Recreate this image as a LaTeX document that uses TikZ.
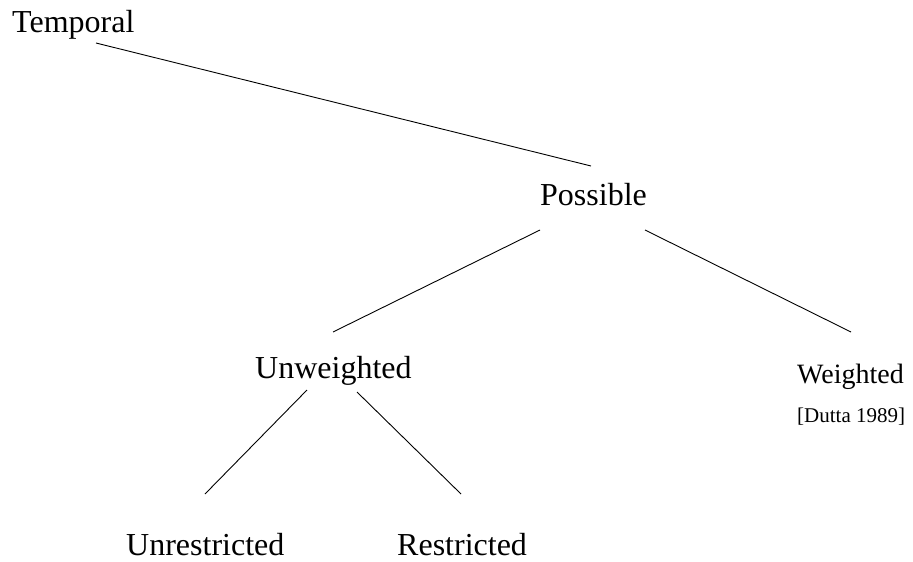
\documentclass[tikz,border=0pt]{standalone}
\usepackage{fontspec}
\setmainfont{Liberation Serif}
\begin{document}
\begin{tikzpicture}[x=1pt,y=-1pt,
  label/.style={anchor=base west,inner sep=0pt,font=\fontsize{32}{36}\selectfont},
  smalllabel/.style={anchor=base west,inner sep=0pt,font=\fontsize{28}{32}\selectfont},
  cite/.style={anchor=base west,inner sep=0pt,font=\fontsize{21}{24}\selectfont},
  edge/.style={line width=0.9pt}]
\useasboundingbox (0,0) rectangle (913,562);
% tree labels
\node[label] (temporal) at (12,32) {Temporal};
\node[label] (possible) at (540,205) {Possible};
\node[label] (unweighted) at (255,378) {Unweighted};
\node[smalllabel] (weighted) at (797,383) {Weighted};
\node[cite] (dutta) at (797,422) {[Dutta 1989]};
\node[label] (unrestricted) at (126,555) {Unrestricted};
\node[label] (restricted) at (397,555) {Restricted};
% branch end points
\coordinate (t1) at (96,43);
\coordinate (p0) at (591,166);
\coordinate (pl) at (540,230);
\coordinate (pr) at (645,230);
\coordinate (u0) at (333,332);
\coordinate (w0) at (851,332);
\coordinate (ul) at (307,390);
\coordinate (ur) at (357,392);
\coordinate (un0) at (205,494);
\coordinate (re0) at (461,494);
% branches
\draw[edge] (t1) -- (p0);
\draw[edge] (pl) -- (u0);
\draw[edge] (pr) -- (w0);
\draw[edge] (ul) -- (un0);
\draw[edge] (ur) -- (re0);
\end{tikzpicture}
\end{document}
